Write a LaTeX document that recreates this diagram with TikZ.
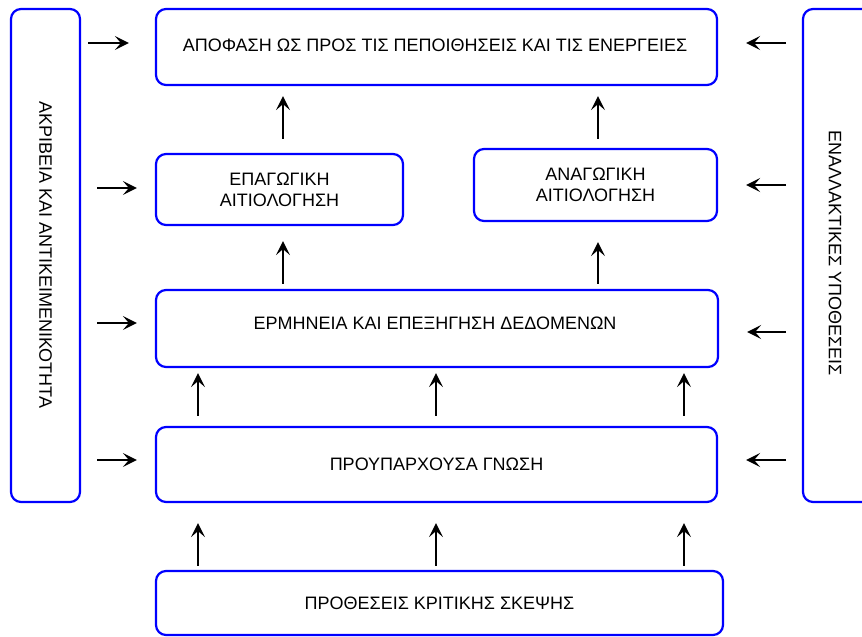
\documentclass[tikz,border=0pt]{standalone}
\usepackage{fontspec}
\setmainfont{Liberation Sans}
\usetikzlibrary{arrows.meta}
\begin{document}
\begin{tikzpicture}[x=1pt,y=-1pt,
  box/.style={draw=blue,line width=2.2pt,rounded corners=10pt,fill=white,
    inner sep=0pt,align=center,font=\fontsize{18}{21}\selectfont},
  arr/.style={draw=black,line width=2.2pt,
    -{Stealth[length=14pt,width=14pt,inset=6pt]}},
  sidetext/.style={rotate=-90,font=\fontsize{18}{21}\selectfont}]
\useasboundingbox (0,0) rectangle (862,637);
\clip (0,0) rectangle (862,637);

% side columns
\node[box,minimum width=69pt,minimum height=493pt] (L) at (45.5,255.5) {};
\node[sidetext] (Ltxt) at (45.5,255) {ΑΚΡΙΒΕΙΑ ΚΑΙ ΑΝΤΙΚΕΙΜΕΝΙΚΟΤΗΤΑ};
\node[box,minimum width=69pt,minimum height=493pt] (R) at (837.5,255.5) {};
\node[sidetext] (Rtxt) at (835,253) {ΕΝΑΛΛΑΚΤΙΚΕΣ ΥΠΟΘΕΣΕΙΣ};

% central boxes
\node[box,minimum width=561pt,minimum height=76pt] (top) at (436.5,47) {};
\node (toptxt) at (435,45) [font=\fontsize{18}{21}\selectfont]
  {ΑΠΟΦΑΣΗ ΩΣ ΠΡΟΣ ΤΙΣ ΠΕΠΟΙΘΗΣΕΙΣ ΚΑΙ ΤΙΣ ΕΝΕΡΓΕΙΕΣ};
\node[box,minimum width=247pt,minimum height=71pt] (epag) at (279.5,189.5)
  {ΕΠΑΓΩΓΙΚΗ\\ΑΙΤΙΟΛΟΓΗΣΗ};
\node[box,minimum width=243pt,minimum height=72pt] (anag) at (595.5,185)
  {ΑΝΑΓΩΓΙΚΗ\\ΑΙΤΙΟΛΟΓΗΣΗ};
\node[box,minimum width=562pt,minimum height=77pt] (erm) at (437,328.5) {};
\node (ermtxt) at (435,323) [font=\fontsize{18}{21}\selectfont]
  {ΕΡΜΗΝΕΙΑ ΚΑΙ ΕΠΕΞΗΓΗΣΗ ΔΕΔΟΜΕΝΩΝ};
\node[box,minimum width=561pt,minimum height=75pt] (prou) at (436.5,464.5)
  {ΠΡΟΥΠΑΡΧΟΥΣΑ ΓΝΩΣΗ};
\node[box,minimum width=567pt,minimum height=64pt] (bot) at (439.5,603)
  {ΠΡΟΘΕΣΕΙΣ ΚΡΙΤΙΚΗΣ ΣΚΕΨΗΣ};

% upward arrows
\coordinate (ca) at (283,0);
\coordinate (cb) at (598,0);
\draw[arr,shorten <=14pt,shorten >=10pt] (epag.north -| ca) -- (top.south -| ca);
\draw[arr,shorten <=9pt,shorten >=10pt] (anag.north -| cb) -- (top.south -| cb);
\draw[arr,shorten <=5pt,shorten >=15pt] (erm.north -| ca) -- (epag.south -| ca);
\draw[arr,shorten <=5pt,shorten >=20pt] (erm.north -| cb) -- (anag.south -| cb);
\foreach \x/\n in {198/a,436/b,684/c}{
  \coordinate (pu\n) at (\x,0);
  \draw[arr,shorten <=10pt,shorten >=5pt] (prou.north -| pu\n) -- (erm.south -| pu\n);
  \draw[arr,shorten <=4pt,shorten >=20pt] (bot.north -| pu\n) -- (prou.south -| pu\n);
}

% arrows from the side columns
\coordinate (l1) at (88,43);  \coordinate (r1) at (786,43);
\coordinate (l2) at (97,188); \coordinate (r2) at (786,185);
\coordinate (l3) at (97,323); \coordinate (r3) at (786,332);
\coordinate (l4) at (97,460); \coordinate (r4) at (786,460);
\draw[arr,shorten >=26pt] (l1) -- (l1 -| top.west);
\draw[arr,shorten >=18pt] (l2) -- (l2 -| epag.west);
\draw[arr,shorten >=18pt] (l3) -- (l3 -| erm.west);
\draw[arr,shorten >=18pt] (l4) -- (l4 -| prou.west);
\draw[arr,shorten >=28pt] (r1) -- (r1 -| top.east);
\draw[arr,shorten >=28pt] (r2) -- (r2 -| anag.east);
\draw[arr,shorten >=28pt] (r3) -- (r3 -| erm.east);
\draw[arr,shorten >=28pt] (r4) -- (r4 -| prou.east);
\end{tikzpicture}
\end{document}
